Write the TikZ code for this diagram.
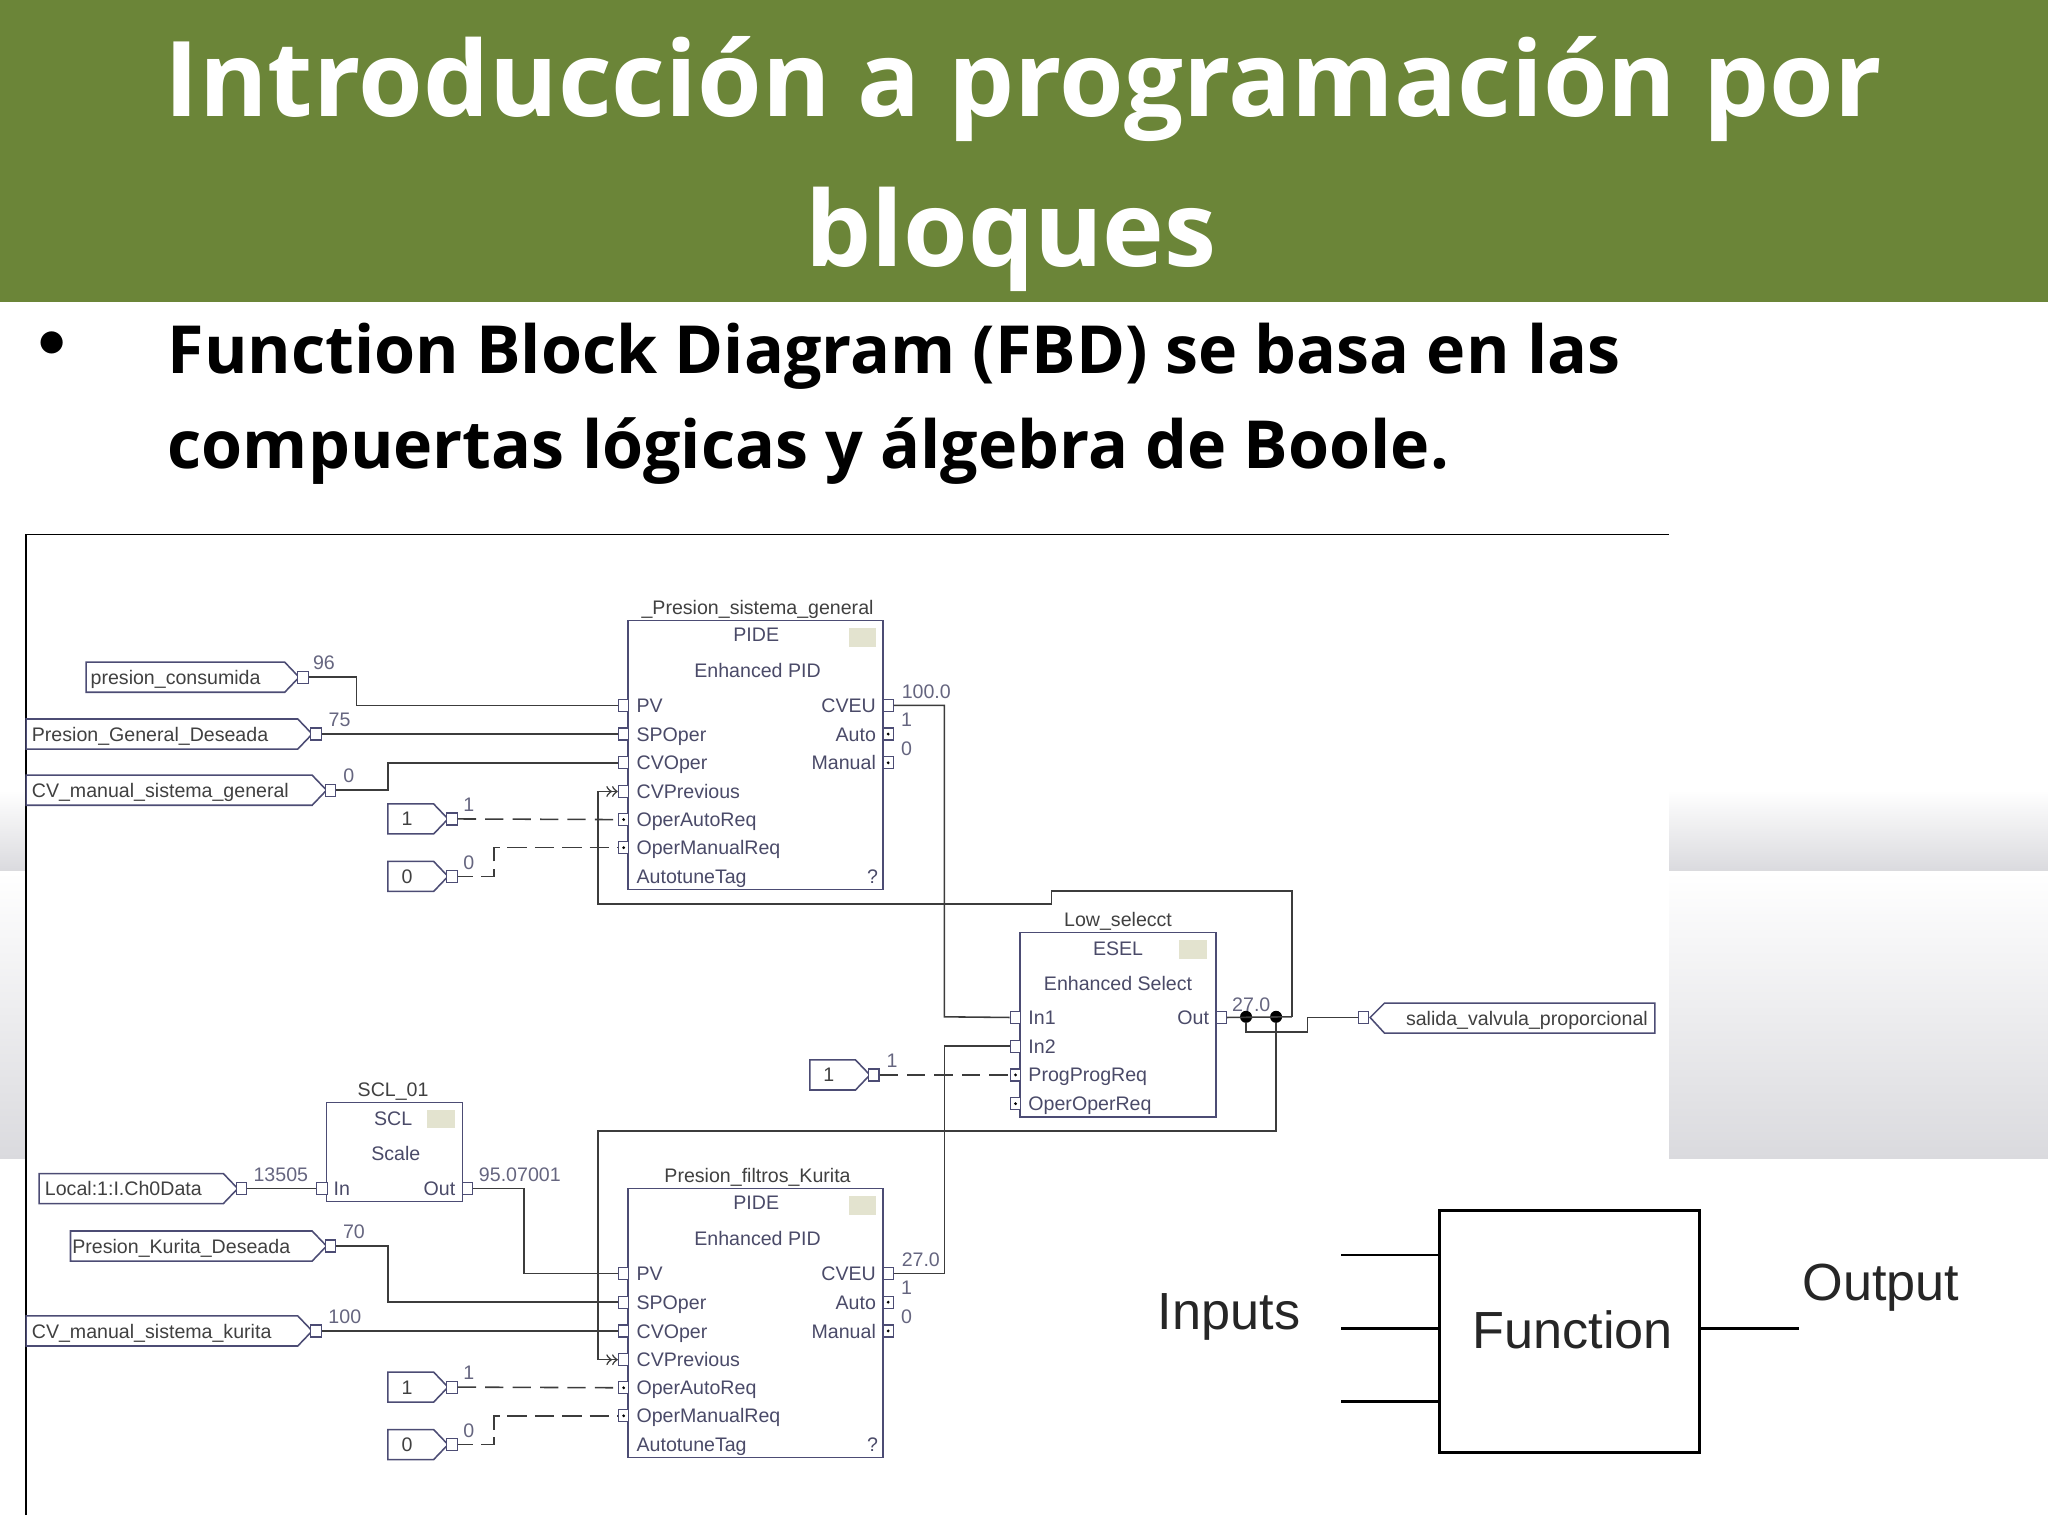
\documentclass[tikz,border=0pt]{standalone}
\usepackage{fontspec}
\setmainfont{Liberation Sans}
\newfontfamily\slidefont{Open Sans}
\newfontfamily\bulletfont{Carlito}
\definecolor{headgreen}{HTML}{6B8538}
\definecolor{bandgrey}{HTML}{DADADE}
\definecolor{blockblue}{HTML}{4C4C74}
\definecolor{blocktext}{HTML}{4A4A68}
\definecolor{wiregrey}{HTML}{3C3C3C}
\definecolor{btnfill}{HTML}{E3E3CF}
\tikzset{
	pinbox/.style={draw=blockblue, fill=white, line width=0.45pt, inner sep=0pt, minimum width=4pt, minimum height=4.6pt},
	pindot/.style={pinbox, path picture={\fill[black] (path picture bounding box.center) circle (0.6pt);}},
	blockbox/.style={draw=blockblue, line width=0.6pt, inner sep=0pt},
	btnbox/.style={fill=btnfill, inner sep=0pt, minimum width=10.5pt, minimum height=7pt},
	fbtext/.style={font=\fontsize{7.5}{9}\selectfont, text=blocktext, inner sep=0pt, text height=6.5pt, text depth=1.1pt},
	tagtext/.style={font=\fontsize{7.5}{9}\selectfont, text=black!75, inner sep=0pt, text height=6.5pt, text depth=1.1pt},
	valtext/.style={font=\fontsize{7.5}{9}\selectfont, text=blocktext!85, inner sep=0pt, text height=6.5pt, text depth=1.1pt},
	tagline/.style={draw=blockblue, line width=0.6pt},
	wire/.style={draw=wiregrey, line width=0.6pt},
	wiredash/.style={wire, dash pattern=on 7pt off 3.5pt},
	wirebent/.style={wire, dash pattern=on 7.5pt off 3pt, dash phase=1.5pt},
	joint/.style={circle, fill=black, inner sep=0pt, minimum size=4.6pt},
	heavy/.style={draw=black, line width=1pt},
	bigtext/.style={font=\fontsize{20}{24}\selectfont, text=black!85, inner sep=0pt},
	headtext/.style={anchor=base, inner sep=0pt, text=white, font=\slidefont\bfseries\fontsize{40}{50}\selectfont},
	bodytext/.style={anchor=base west, inner sep=0pt, font=\slidefont\bfseries\fontsize{25.4}{32}\selectfont},
}
% name, left, right, y, text, value, x of value
\newcommand{\taginput}[7]{
	\draw[tagline] (#2,#4-11.5) -- (#3,#4-11.5) -- (#3+11,#4) -- (#3,#4+11.5) -- (#2,#4+11.5) -- cycle;
	\node[pinbox] (#1) at (#3+14,#4) {};
	\node[tagtext, anchor=west] (#1text) at (#2+4,#4) {#5};
	\node[valtext] (#1val) at (#7,#4-11) {#6};
}
% name, top, title, value at CVEU
\newcommand{\pidebox}[4]{
	\node[blockbox, minimum width=97.5pt, minimum height=103pt] (#1) at (578.5,#2+103) {};
	\node[tagtext] (#1title) at (580,#2-10) {#3};
	\node[fbtext] (#1type) at (579,#2+11) {PIDE};
	\node[btnbox] (#1btn) at (660.5,#2+13) {};
	\node[fbtext] (#1desc) at (580,#2+38) {Enhanced PID};
	\foreach \lbl/\off/\sty in {PV/65/pinbox, SPOper/87/pinbox, CVOper/109/pinbox, CVPrevious/131/pinbox, OperAutoReq/152.5/pindot, OperManualReq/174/pindot}{
		\node[\sty] (#1\lbl) at (477.5,#2+\off) {};
		\node[fbtext, anchor=west] (#1\lbl text) at (487,#2+\off) {\lbl};
	}
	\node[fbtext, anchor=west] (#1tune) at (487,#2+196) {AutotuneTag};
	\node[fbtext] (#1ask) at (668,#2+196) {?};
	\foreach \lbl/\off/\sty in {CVEU/65/pinbox, Auto/87/pindot, Manual/109/pindot}{
		\node[\sty] (#1\lbl) at (680,#2+\off) {};
		\node[fbtext, anchor=east] (#1\lbl text) at (671,#2+\off) {\lbl};
	}
	\node[valtext, anchor=west] (#1value) at (690,#2+54.5) {#4};
	\node[valtext] (#1one) at (694,#2+76) {1};
	\node[valtext] (#1zero) at (694,#2+98) {0};
}

\begin{document}
\begin{tikzpicture}[x=0.5pt, y=-0.5pt]
		\useasboundingbox (0,0) rectangle (1568,1176);
		
		%%%%% SLIDE %%%%%
		\fill[headgreen] (0,0) rectangle (1568,231);
		\shade[top color=white, bottom color=bandgrey] (0,605) rectangle (20,667);
		\shade[top color=white, bottom color=bandgrey] (0,667) rectangle (20,887);
		\shade[top color=white, bottom color=bandgrey] (1278,605) rectangle (1568,667);
		\shade[top color=white, bottom color=bandgrey] (1278,667) rectangle (1568,887);
		
		\node[headtext] (titleone) at (783.5,89.5) {Introducción a programación por};
		\node[headtext] (titletwo) at (774,204) {bloques};
		\node[anchor=base, inner sep=0pt, font=\bulletfont\fontsize{24}{28}\selectfont] (bullet) at (40,276) {•};
		\node[bodytext] (bodyone) at (128,286) {Function Block Diagram (FBD) se basa en las};
		\node[bodytext] (bodytwo) at (128,359) {compuertas lógicas y álgebra de Boole.};
		
		\draw[draw=black, line width=0.5pt] (20,1160) -- (20,409) -- (1278,409);
		
		%%%%% UPPER PID %%%%%
		\pidebox{supA}{475}{\_Presion\_sistema\_general}{100.0}
		\taginput{tagA}{66}{218}{518.5}{\hspace{-0.5pt}presion\_consumida}{96}{248}
		\taginput{tagB}{20}{228}{562}{Presion\_General\_Deseada}{75}{260}
		\taginput{tagC}{20}{239}{605}{CV\_manual\_sistema\_general}{0}{267}
		\taginput{oneA}{297}{332}{627}{\hspace{3pt}1}{1}{359}
		\taginput{zeroA}{297}{332}{671}{\hspace{3pt}0}{0}{359}
		
		\coordinate (bendA) at (273,540);
		\coordinate (bendC) at (297,584);
		\coordinate (bendZ) at (378,649);
		\draw[wire] (tagA.east) -| (bendA) -- (supAPV.west);
		\draw[wire] (tagB.east) -- (supASPOper.west);
		\draw[wire] (tagC.east) -| (bendC) -- (supACVOper.west);
		\draw[wiredash] (oneA.east) -- (supAOperAutoReq.west);
		\draw[wirebent] (zeroA.east) -| (bendZ) -- (supAOperManualReq.west);
		
		%%%%% SCALE %%%%%
		\node[blockbox, minimum width=52pt, minimum height=38pt] (scl) at (302,882) {};
		\node[tagtext] (scltitle) at (301,834) {SCL\_01};
		\node[fbtext] (scltype) at (301,856) {SCL};
		\node[btnbox] (sclbtn) at (337.5,857) {};
		\node[fbtext] (scldesc) at (303,883) {Scale};
		\node[pinbox] (sclIn) at (246.5,910) {};
		\node[fbtext, anchor=west] (sclIntext) at (255,910) {In};
		\node[pinbox] (sclOut) at (358,910) {};
		\node[fbtext, anchor=east] (sclOuttext) at (349,910) {Out};
		\node[valtext] (sclOutval) at (398,899) {95.07001};
		\taginput{tagD}{30}{171}{910}{Local:1:I.Ch0Data}{13505}{215}
		
		%%%%% LOWER PID %%%%%
		\pidebox{filA}{910}{Presion\_filtros\_Kurita}{27.0}
		\taginput{tagE}{54}{239}{954}{\hspace{-1.5pt}Presion\_Kurita\_Deseada}{70}{271}
		\taginput{tagF}{20}{228}{1019}{CV\_manual\_sistema\_kurita}{100}{264}
		\taginput{oneB}{297}{332}{1062}{\hspace{3pt}1}{1}{359}
		\taginput{zeroB}{297}{332}{1106}{\hspace{3pt}0}{0}{359}
		
		\coordinate (bendO) at (401,975);
		\coordinate (bendE) at (297,997);
		\coordinate (bendY) at (378,1084);
		\draw[wire] (tagD.east) -- (sclIn.west);
		\draw[wire] (sclOut.east) -| (bendO) -- (filAPV.west);
		\draw[wire] (tagE.east) -| (bendE) -- (filASPOper.west);
		\draw[wire] (tagF.east) -- (filACVOper.west);
		\draw[wiredash] (oneB.east) -- (filAOperAutoReq.west);
		\draw[wirebent] (zeroB.east) -| (bendY) -- (filAOperManualReq.west);
		
		%%%%% SELECT %%%%%
		\node[blockbox, minimum width=75pt, minimum height=70.5pt] (esel) at (856,784.5) {};
		\node[tagtext] (eseltitle) at (856,704) {Low\_selecct};
		\node[fbtext] (eseltype) at (856,726) {ESEL};
		\node[btnbox] (eselbtn) at (913.5,727) {};
		\node[fbtext] (eseldesc) at (856,753) {Enhanced Select};
		\foreach \lbl/\y/\sty in {In1/779/pinbox, In2/801/pinbox, ProgProgReq/823/pindot, OperOperReq/845/pindot}{
			\node[\sty] (esel\lbl) at (777.5,\y) {};
			\node[fbtext, anchor=west] (esel\lbl text) at (787,\y) {\lbl};
		}
		\node[pinbox] (eselOut) at (935,779) {};
		\node[fbtext, anchor=east] (eselOuttext) at (926,779) {Out};
		\node[valtext] (eselOutval) at (958,769) {27.0};
		\taginput{oneC}{620}{655}{823}{\hspace{3pt}1}{1}{683}
		
		% output tag points the other way
		\draw[tagline] (1267,768) -- (1060,768) -- (1049,779) -- (1060,791) -- (1267,791) -- cycle;
		\node[pinbox] (tagOut) at (1044,779) {};
		\node[tagtext, anchor=east] (tagOuttext) at (1262,780) {salida\_valvula\_proporcional};
		
		\node[joint] (jointA) at (954,778.5) {};
		\node[joint] (jointB) at (977,778.5) {};
		\coordinate (turnA) at (989,778.5);
		\coordinate (stepA) at (1001,790);
		\coordinate (topA) at (805,682);
		\coordinate (topB) at (805,692);
		\coordinate (backA) at (458,692);
		\coordinate (backB) at (458,866);
		\coordinate (runA) at (723,778.5);
		\coordinate (runB) at (723,801);
		
		\draw[wire] (supACVEU.east) -| (runA) -- (eselIn1.west);
		\draw[wire] (filACVEU.east) -| (runB) -- (eselIn2.west);
		\draw[wiredash] (oneC.east) -- (eselProgProgReq.west);
		\draw[wire] (eselOut.east) -- (turnA);
		\draw[wire] (jointA) |- (stepA) |- (tagOut.west);
		\draw[wire, ->>] (turnA) |- (topA) -- (topB) -- (backA) -- (supACVPrevious.west -| backA) -- (supACVPrevious.west);
		\draw[wire, ->>] (jointB) |- (backB) -- (filACVPrevious.west -| backB) -- (filACVPrevious.west);
		
		%%%%% INSET %%%%%
		\node[heavy, inner sep=0pt, minimum width=99.5pt, minimum height=92.5pt] (func) at (1201.5,1019.5) {};
		\node[bigtext] (functext) at (1204,1018) {Function};
		\node[bigtext] (inputs) at (941,1008) {Inputs};
		\node[bigtext] (output) at (1440,986) {Output};
		\coordinate (inA) at (1027,961);
		\coordinate (inB) at (1027,1017);
		\coordinate (inC) at (1027,1073);
		\coordinate (outA) at (1377,1017);
		\draw[heavy] (inA) -- (inA -| func.west);
		\draw[heavy] (inB) -- (inB -| func.west);
		\draw[heavy] (inC) -- (inC -| func.west);
		\draw[heavy] (outA -| func.east) -- (outA);
		%%%%% END %%%%%
	\end{tikzpicture}
\end{document}
